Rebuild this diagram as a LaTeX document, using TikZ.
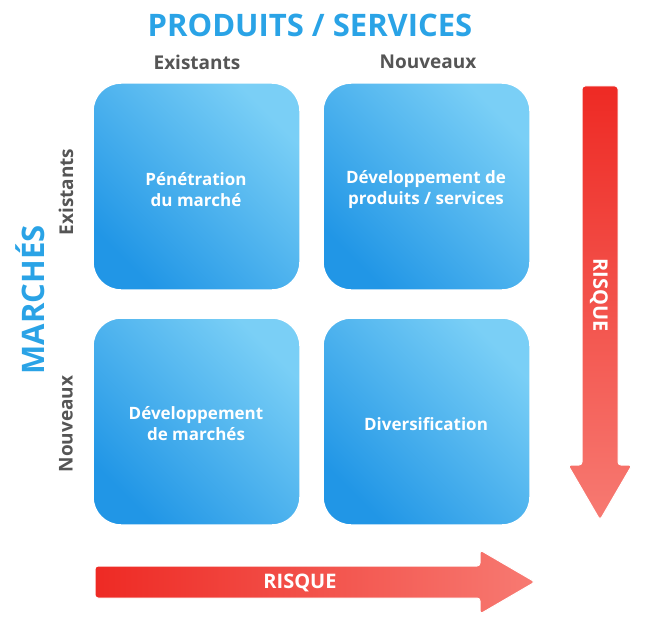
\documentclass[tikz,border=0pt]{standalone}
\usepackage{fontspec}
\setmainfont{Open Sans}
\usetikzlibrary{shapes.arrows}
\definecolor{tblue}{HTML}{2AA3E6}
\definecolor{lblue}{HTML}{7ACFF6}
\definecolor{dblue}{HTML}{2196E6}
\definecolor{gtxt}{HTML}{555555}
\definecolor{rdark}{HTML}{EE2A24}
\definecolor{rlight}{HTML}{F77A72}
\begin{document}
\begin{tikzpicture}[x=1pt,y=-1pt,
  box/.style={rounded corners=28pt,draw=white,line width=1.5pt,left color=dblue,right color=lblue,shading angle=135},
  btxt/.style={text=white,font=\bfseries\fontsize{17}{21}\selectfont,align=center},
  head/.style={text=gtxt,font=\bfseries\fontsize{19}{22}\selectfont}]
\useasboundingbox (0,0) rectangle (648,642);
\node[text=tblue,font=\bfseries\fontsize{31}{34}\selectfont] (title) at (310,25) {PRODUITS / SERVICES};
\node[head] (ce) at (197,62) {Existants};
\node[head] (cn) at (428,62) {Nouveaux};
\node[text=tblue,font=\bfseries\fontsize{31}{34}\selectfont,rotate=90] (mk) at (30,300) {MARCHÉS};
\node[head,rotate=90] (re) at (66,192) {Existants};
\node[head,rotate=90] (rn) at (66,424) {Nouveaux};
\path[box] (93,83) rectangle (300,290);
\path[box] (323,83) rectangle (530,290);
\path[box] (93,318) rectangle (300,525);
\path[box] (323,318) rectangle (530,525);
\node[btxt] (b1) at (196,190) {Pénétration\\du marché};
\node[btxt] (b2) at (426,190) {Développement de\\produits / services};
\node[btxt] (b3) at (196,424) {Développement\\de marchés};
\node[btxt] (b4) at (426,424) {Diversification};
\path[top color=rdark,bottom color=rlight,draw=white,line width=1pt,rounded corners=3pt]
  (582,86) -- (618,86) -- (618,465) -- (632,465) -- (600,520) -- (568,465) -- (582,465) -- cycle;
\node[text=white,font=\bfseries\fontsize{20}{22}\selectfont,rotate=-90] (rv) at (599,295) {RISQUE};
\path[left color=rdark,right color=rlight,draw=white,line width=1pt,rounded corners=3pt]
  (95,566) -- (480,566) -- (480,550) -- (535,582) -- (480,614) -- (480,598) -- (95,598) -- cycle;
\node[text=white,font=\bfseries\fontsize{20}{22}\selectfont] (rh) at (300,583) {RISQUE};
\end{tikzpicture}
\end{document}
